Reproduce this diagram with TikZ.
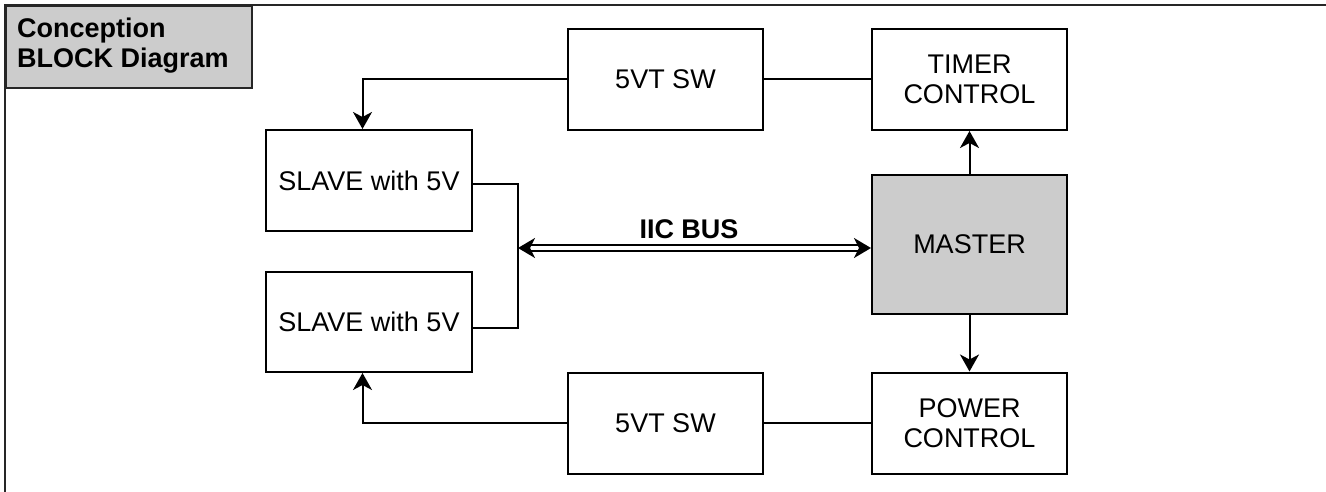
\documentclass[tikz,border=0pt]{standalone}
\usepackage{fontspec}
\setmainfont{Liberation Sans}
\usetikzlibrary{arrows.meta,calc}
\definecolor{boxgray}{HTML}{CCCCCC}
\begin{document}
\begin{tikzpicture}[x=1pt,y=-1pt,
  every node/.style={font=\fontsize{27}{30}\selectfont},
  blk/.style={draw=black,line width=2pt,fill=white,align=center,minimum width=195pt,minimum height=101pt,inner sep=0pt},
  conn/.style={draw=black,line width=2pt},
  arr/.style={conn,-{Stealth[length=17pt,width=19pt,inset=5pt]}},
  bus/.style={draw=black,line width=2pt,double=white,double distance=4pt,
    {Stealth[length=17pt,width=20pt,inset=5pt]}-{Stealth[length=17pt,width=20pt,inset=5pt]}}
]
\useasboundingbox (0,0) rectangle (1326,492);
% frame
\draw[line width=2pt,draw=black!85] (5,492) -- (5,5) -- (1326,5);
\node[draw=black!85,line width=2pt,fill=boxgray,minimum width=246pt,minimum height=82pt,inner sep=0pt,anchor=north west] (title) at (5,5) {};
\node[anchor=west,align=left,inner sep=0pt,font=\fontsize{27}{30}\selectfont\bfseries] (titletext) at (17,46) {Conception\\BLOCK Diagram};
% blocks
\node[blk] (sw1) at (665.5,79.5) {5VT SW};
\node[blk] (timer) at (969.5,79.5) {TIMER\\CONTROL};
\node[blk,fill=boxgray,minimum height=139pt] (master) at (969.5,244.5) {MASTER};
\node[blk] (power) at (969.5,423) {POWER\\CONTROL};
\node[blk] (sw2) at (665.5,423) {5VT SW};
\node[blk,minimum width=206pt] (slave1) at (369,180.5) {SLAVE with 5V};
\node[blk,minimum width=206pt,minimum height=100pt] (slave2) at (369,322) {SLAVE with 5V};
% connectors
\draw[conn] (sw1) -- (timer);
\draw[conn] (sw2) -- (power);
\draw[arr] (master) -- (timer);
\draw[arr] (master) -- (power);
\draw[arr] (sw1.west) -| ([xshift=-6.5pt]slave1.north);
\draw[arr] (sw2.west) -| ([xshift=-6.5pt]slave2.south);
\coordinate (j1) at (518,184);
\coordinate (j2) at (518,328);
\draw[conn] (slave1.east |- j1) -- (j1) -- (j2) -- (slave2.east |- j2);
\coordinate (busL) at (518,248);
\draw[bus] (busL) -- (master.west |- busL);
\node[font=\fontsize{27}{30}\selectfont\bfseries] (buslabel) at (689,229) {IIC BUS};
\end{tikzpicture}
\end{document}
